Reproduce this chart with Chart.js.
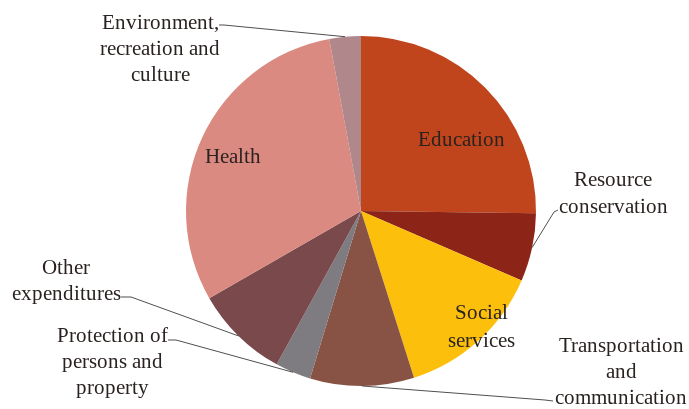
<!DOCTYPE html>
<html>
<head>
<meta charset="utf-8">
<script src="https://cdn.jsdelivr.net/npm/chart.js@4/dist/chart.umd.min.js"></script>
<style>
  @font-face {
    font-family: 'LabelSerif';
    src: local('Liberation Serif'), local('LiberationSerif'), local('LiberationSerif-Regular'), local('DejaVu Serif');
  }
  html, body { margin: 0; padding: 0; background: #ffffff; }
  #wrap { width: 689px; height: 409px; position: relative; }
  #probe { font-family: 'LabelSerif', 'Liberation Serif', serif; position: absolute; left: -999px; top: 0; }
</style>
</head>
<body>
<div id="wrap"><canvas id="chart" width="689" height="409"></canvas></div>
<span id="probe">Education</span>
<script>
// Spending shares by function (percent of total)
const categories = [
  'Education',
  'Resource conservation',
  'Social services',
  'Transportation and communication',
  'Protection of persons and property',
  'Other expenditures',
  'Health',
  'Environment, recreation and culture'
];
const shares = [25.2, 6.3, 13.6, 9.6, 3.3, 8.7, 30.4, 2.9];
const sliceColors = ['#C0441C', '#8C2418', '#FCBF0C', '#885344', '#7E7C80', '#7A494B', '#DA8A80', '#B0878B'];
const labelLines = [
  ['Education'],
  ['Resource', 'conservation'],
  ['Social', 'services'],
  ['Transportation', 'and', 'communication'],
  ['Protection of', 'persons and', 'property'],
  ['Other', 'expenditures'],
  ['Health'],
  ['Environment,', 'recreation and', 'culture']
];

// Label placement: centre x, first line y, line height, optional leader start points
const labelLayout = [
  { x: 461, y: 140, lh: 26 },
  { x: 613, y: 180, lh: 27, leader: [[558, 210], [554, 212]] },
  { x: 481, y: 313, lh: 28 },
  { x: 621, y: 346, lh: 26, leader: [[553, 401], [545, 400]] },
  { x: 112, y: 336, lh: 26, leader: [[168, 340], [176, 340]] },
  { x: 66, y: 268, lh: 26, leader: [[121, 297], [131, 297]] },
  { x: 233, y: 157, lh: 26 },
  { x: 160, y: 23, lh: 26, leader: [[219, 25], [224, 25]] }
];

const sliceLabels = {
  id: 'sliceLabels',
  afterDatasetsDraw(chart) {
    const ctx = chart.ctx;
    const arcs = chart.getDatasetMeta(0).data;
    ctx.save();
    // leader lines
    ctx.strokeStyle = '#4f4f4f';
    ctx.lineWidth = 1;
    arcs.forEach((arc, i) => {
      const lay = labelLayout[i];
      if (!lay.leader) return;
      const p = arc.getProps(['x', 'y', 'startAngle', 'endAngle', 'outerRadius'], true);
      const mid = (p.startAngle + p.endAngle) / 2;
      const ex = p.x + Math.cos(mid) * p.outerRadius;
      const ey = p.y + Math.sin(mid) * p.outerRadius;
      ctx.beginPath();
      ctx.moveTo(lay.leader[0][0], lay.leader[0][1]);
      for (let k = 1; k < lay.leader.length; k++) ctx.lineTo(lay.leader[k][0], lay.leader[k][1]);
      ctx.lineTo(ex, ey);
      ctx.stroke();
    });
    // label text
    ctx.fillStyle = '#2a2220';
    ctx.font = '21px LabelSerif, "Liberation Serif", "DejaVu Serif", serif';
    ctx.textAlign = 'center';
    ctx.textBaseline = 'middle';
    labelLines.forEach((lines, i) => {
      const lay = labelLayout[i];
      lines.forEach((t, k) => ctx.fillText(t, lay.x, lay.y + k * lay.lh));
    });
    ctx.restore();
  }
};

function build() {
  new Chart(document.getElementById('chart'), {
    type: 'pie',
    data: {
      labels: categories,
      datasets: [{
        data: shares,
        backgroundColor: sliceColors,
        borderWidth: 0
      }]
    },
    options: {
      responsive: false,
      animation: false,
      layout: { padding: { left: 186, right: 153, top: 36, bottom: 23 } },
      plugins: {
        legend: { display: false },
        tooltip: { enabled: false }
      }
    },
    plugins: [sliceLabels]
  });
}

if (document.fonts && document.fonts.load) {
  Promise.all([
    document.fonts.load('21px LabelSerif'),
    document.fonts.load('21px "Liberation Serif"')
  ]).then(build, build);
} else {
  build();
}
</script>
</body>
</html>
